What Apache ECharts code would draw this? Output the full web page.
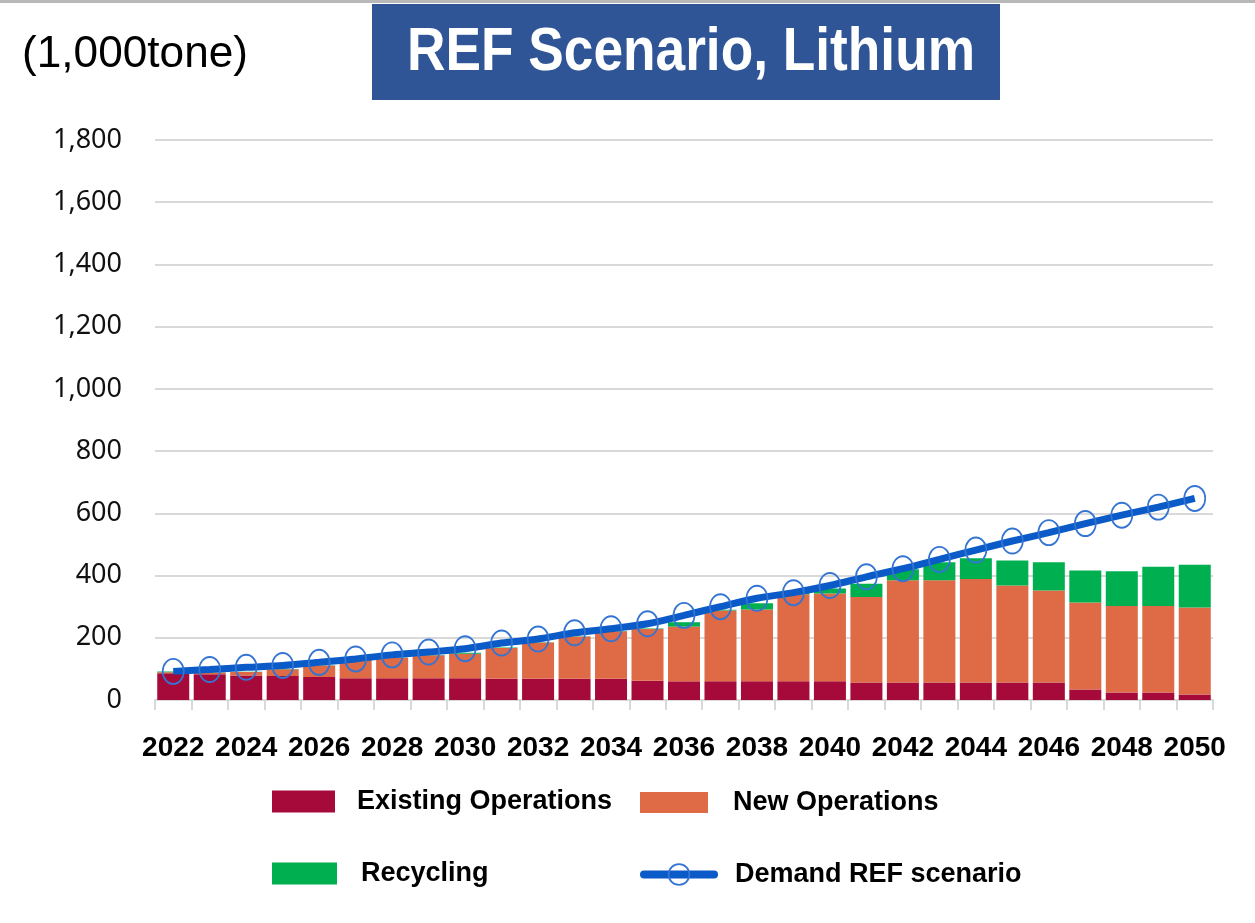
<!DOCTYPE html>
<html>
<head>
<meta charset="utf-8">
<script src="https://cdn.jsdelivr.net/npm/echarts@6/dist/echarts.min.js"></script>
<style>
html,body{margin:0;padding:0;background:#fff;}
#chart{width:1255px;height:923px;}
</style>
</head>
<body>
<div id="chart"></div>
<script>
const years = ['2022','2023','2024','2025','2026','2027','2028','2029','2030','2031','2032','2033','2034','2035','2036','2037','2038','2039','2040','2041','2042','2043','2044','2045','2046','2047','2048','2049','2050'];
const existingOps = [86,83,79,77,74,70,70,70,70,68,68,68,68,62,60,60,60,60,60,56,56,56,56,56,56,34,24,24,18];
const newOps = [3,5,11,22,37,61,66,74,79,99,117,136,153,166,176,228,231,280,282,275,329,329,333,312,296,279,278,278,279];
const recycling = [3,1,1,1,1,1,1,1,3,2,1,1,1,2,14,2,20,4,16,43,35,58,67,80,91,103,112,126,138];
const demandREF = [92,98,105,111,121,132,145,154,165,183,196,216,229,245,272,300,327,345,368,396,422,452,482,511,538,567,594,620,648];
const yTicks = {min:0, max:1800, interval:200};

const sansFam = "'Liberation Sans',Arial,sans-serif";
const chart = echarts.init(document.getElementById('chart'));

// horizontal squeeze factor so wide fonts fit the narrow (Calibri-like) widths of the reference
function fitScale(text, font, targetWidth){
  const c = document.createElement('canvas').getContext('2d');
  c.font = font;
  return targetWidth / c.measureText(text).width;
}
const titleText = 'REF Scenario, Lithium';
const titleFont = "bold 61px " + sansFam;
const titleScale = fitScale(titleText, titleFont, 568);
const unitText = '(1,000tone)';
const unitFont = "44px " + sansFam;
const unitScale = fitScale(unitText, unitFont, 226);

function legendAt(name, left, top, w, h, pad, extra){
  return Object.assign({
    data:[name], left:left, top:top, orient:'horizontal', padding:0,
    itemWidth:w, itemHeight:h, selectedMode:false, icon:'rect',
    textStyle:{fontFamily:sansFam, fontWeight:'bold', fontSize:27, color:'#000', lineHeight:h, padding:pad}
  }, extra || {});
}

chart.setOption({
  animation:false,
  backgroundColor:'#fff',
  grid:{left:155, right:42, top:140, bottom:223, containLabel:false},
  graphic:[
    {type:'rect', shape:{x:0,y:0,width:1255,height:3}, style:{fill:'#b8b8b8'}},
    {type:'rect', shape:{x:372,y:4,width:628,height:96}, style:{fill:'#2F5597'}},
    {type:'text', x:691, y:53, scaleX:titleScale, originX:0, originY:0,
      style:{text:titleText, fill:'#fff', font:titleFont, textAlign:'center', textVerticalAlign:'middle'}},
    {type:'text', x:22, y:55, scaleX:unitScale, originX:0, originY:0,
      style:{text:unitText, fill:'#000', font:unitFont, textAlign:'left', textVerticalAlign:'middle'}}
  ],
  legend:[
    legendAt('Existing Operations', 272, 788, 63, 22, [0,0,0,17]),
    legendAt('New Operations', 640, 788, 68, 21, [8,0,0,20]),
    legendAt('Recycling', 272, 860, 65, 22, [0,0,0,19]),
    legendAt('Demand REF scenario', 640, 861, 70, 26, [0,0,0,16], {
      icon:null,
      lineStyle:{width:8, color:'#0A5BC7', cap:'round'},
      itemStyle:{color:'rgba(255,255,255,0)', borderColor:'#3474D2', borderWidth:1.8}
    })
  ],
  xAxis:{
    type:'category', data:years, boundaryGap:true,
    axisLine:{show:true, lineStyle:{color:'#d9d9d9', width:2}},
    axisTick:{show:true, alignWithLabel:false, interval:0, length:10, lineStyle:{color:'#d9d9d9', width:2}},
    axisLabel:{interval:1, showMinLabel:true, showMaxLabel:true, margin:34, color:'#000', fontFamily:sansFam, fontWeight:'bold', fontSize:28}
  },
  yAxis:{
    type:'value', min:yTicks.min, max:yTicks.max, interval:yTicks.interval,
    axisLine:{show:false}, axisTick:{show:false},
    splitLine:{lineStyle:{color:'#d9d9d9', width:2}},
    axisLabel:{margin:33, color:'#111', fontFamily:"'Noto Sans',sans-serif", fontSize:27,
      formatter:function(v){return v.toLocaleString('en-US');}}
  },
  series:[
    {name:'Existing Operations', type:'bar', stack:'s', data:existingOps, barWidth:32, itemStyle:{color:'#A50A3A'}},
    {name:'New Operations', type:'bar', stack:'s', data:newOps, barWidth:32, itemStyle:{color:'#DE6A46'}},
    {name:'Recycling', type:'bar', stack:'s', data:recycling, barWidth:32, itemStyle:{color:'#00B050'}},
    {name:'Demand REF scenario', type:'line', data:demandREF, smooth:0.3, z:5,
      symbol:'circle', symbolSize:[21,25], showAllSymbol:true,
      lineStyle:{color:'#0A5BC7', width:7},
      itemStyle:{color:'rgba(255,255,255,0)', borderColor:'#3474D2', borderWidth:1.8}}
  ]
});
</script>
</body>
</html>
